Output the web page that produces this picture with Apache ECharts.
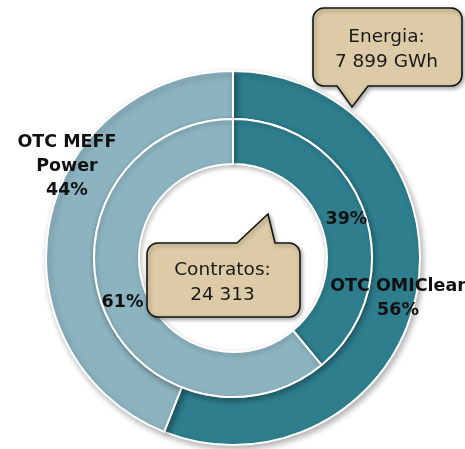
<!DOCTYPE html>
<html>
<head>
<meta charset="utf-8">
<script src="https://cdn.jsdelivr.net/npm/echarts@6/dist/echarts.min.js"></script>
<style>
html,body{margin:0;padding:0;background:#fff;}
#chart{width:465px;height:449px;}
</style>
</head>
<body>
<div id="chart"></div>
<script>
// ---- data ----
var categories = ['OTC OMIClear', 'OTC MEFF\nPower'];
var energiaShare = [56, 44];     // outer ring (%)
var contratosShare = [39, 61];   // inner ring (%)
var energiaTitle = 'Energia:';
var energiaTotal = '7 899 GWh';
var contratosTitle = 'Contratos:';
var contratosTotal = '24 313';

// ---- styles ----
var colors = ['#2E7E8E', '#8CB3C0'];
var FONT = 'DejaVu Sans';
var outerOffsets = [[2, 9], [-3, -60]];
var innerOffsets = [[1, 2], [2, 4]];

function mk(vals, names, transparent) {
  return vals.map(function (v, i) {
    return { value: v, name: names[i], itemStyle: { color: transparent ? 'rgba(0,0,0,0)' : colors[i] } };
  });
}

var chart = echarts.init(document.getElementById('chart'), null, { renderer: 'canvas' });

function corner(pts, cx, cy, r, a0) {
  for (var k = 0; k <= 6; k++) {
    var a = (a0 + k * 15) * Math.PI / 180;
    pts.push([cx + r * Math.cos(a), cy + r * Math.sin(a)]);
  }
}
function bubble(x1, y1, x2, y2, r, tail, text) {
  var pts = [];
  corner(pts, x1 + r, y1 + r, r, 180);
  if (tail.side === 'top') {
    pts.push([tail.a, y1], [tail.tx, tail.ty], [tail.b, y1]);
  }
  corner(pts, x2 - r, y1 + r, r, 270);
  corner(pts, x2 - r, y2 - r, r, 0);
  if (tail.side === 'bottom') {
    pts.push([tail.b, y2], [tail.tx, tail.ty], [tail.a, y2]);
  }
  corner(pts, x1 + r, y2 - r, r, 90);
  return [{
    type: 'polygon',
    shape: { points: pts },
    style: { fill: '#DCCBA6', stroke: '#151515', lineWidth: 1.6, lineJoin: 'miter',
      shadowBlur: 4, shadowColor: 'rgba(0,0,0,0.35)', shadowOffsetX: 1.5, shadowOffsetY: 2 },
    z: 10
  }, {
    type: 'text',
    x: (x1 + x2) / 2 - 1, y: (y1 + y2) / 2 + 3,
    style: { text: text, fontFamily: FONT, fontSize: 18.5, lineHeight: 25, fill: '#1a1a1a',
      align: 'center', verticalAlign: 'middle' },
    z: 11
  }];
}

var labelBase = {
  show: true, position: 'inside', color: '#111', fontFamily: FONT,
  fontWeight: 'bold', fontSize: 17.5, lineHeight: 24, align: 'center',
  overflow: 'none'
};

var option = {
  animation: false,
  series: [{
    // outer ring (energy)
    type: 'pie',
    center: [233, 258],
    radius: [139, 187],
    startAngle: 90,
    clockwise: true,
    silent: true,
    itemStyle: { borderColor: '#fff', borderWidth: 2,
      shadowBlur: 6, shadowColor: 'rgba(0,0,0,0.3)', shadowOffsetX: 2, shadowOffsetY: 3 },
    label: { show: false },
    labelLine: { show: false },
    data: mk(energiaShare, categories),
    z: 2
  }, {
    // inner ring (contracts)
    type: 'pie',
    center: [233, 258],
    radius: [94, 139],
    startAngle: 90,
    clockwise: true,
    silent: true,
    avoidLabelOverlap: false,
    itemStyle: { borderColor: '#fff', borderWidth: 2,
      shadowBlur: 5, shadowColor: 'rgba(0,0,0,0.25)', shadowOffsetX: 1, shadowOffsetY: 2 },
    label: Object.assign({}, labelBase, { formatter: function (p) { return p.value + '%'; } }),
    labelLine: { show: false },
    labelLayout: function (p) { var o = innerOffsets[p.dataIndex]; return { dx: o[0], dy: o[1] }; },
    data: mk(contratosShare, categories),
    z: 3
  }, {
    // outer ring labels, drawn above the inner ring
    type: 'pie',
    center: [233, 258],
    radius: [139, 187],
    startAngle: 90,
    clockwise: true,
    silent: true,
    avoidLabelOverlap: false,
    itemStyle: { borderWidth: 0 },
    label: Object.assign({}, labelBase, { formatter: function (p) { return p.name + '\n' + p.value + '%'; } }),
    labelLine: { show: false },
    labelLayout: function (p) { var o = outerOffsets[p.dataIndex]; return { dx: o[0], dy: o[1] }; },
    data: mk(energiaShare, categories, true),
    z: 4
  }],
  graphic: [].concat(
    bubble(313, 8, 462, 86, 11, { side: 'bottom', a: 337, tx: 352, ty: 107, b: 368 }, energiaTitle + '\n' + energiaTotal),
    bubble(147, 243, 300, 317, 11, { side: 'top', a: 237, tx: 268, ty: 214, b: 275 }, contratosTitle + '\n' + contratosTotal)
  )
};
chart.setOption(option);
</script>
</body>
</html>
